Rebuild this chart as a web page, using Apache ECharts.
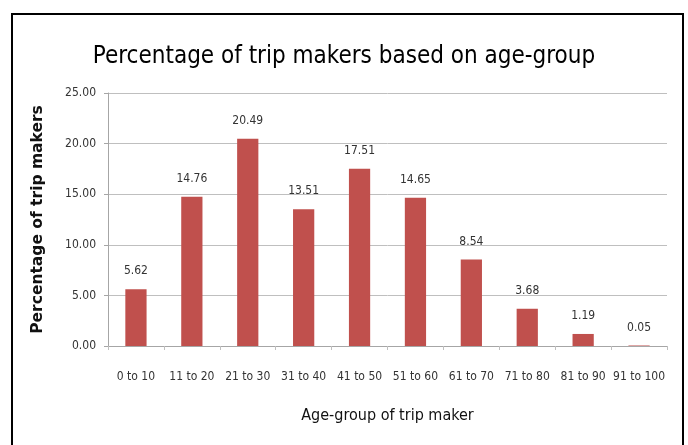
<!DOCTYPE html>
<html>
<head>
<meta charset="utf-8">
<script src="https://cdn.jsdelivr.net/npm/echarts@6/dist/echarts.min.js"></script>
<style>
  html, body { margin: 0; padding: 0; background: #fff; }
  #frame { position: absolute; left: 11px; top: 13px; width: 673px; height: 445px; border: 2px solid #000; box-sizing: border-box; }
  #chart { position: absolute; left: 0; top: 0; width: 688px; height: 445px; }
</style>
</head>
<body>
<div id="frame"></div>
<div id="chart"></div>
<script>
// Age groups and share of trip makers (%)
const ageGroups = ['0 to 10', '11 to 20', '21 to 30', '31 to 40', '41 to 50', '51 to 60', '61 to 70', '71 to 80', '81 to 90', '91 to 100'];
const tripMakerShare = [5.62, 14.76, 20.49, 13.51, 17.51, 14.65, 8.54, 3.68, 1.19, 0.05];
const yTicks = [0, 5, 10, 15, 20, 25];

const font = '"DejaVu Sans Condensed", "DejaVu Sans", sans-serif';
const chart = echarts.init(document.getElementById('chart'));
chart.setOption({
  animation: false,
  title: {
    text: 'Percentage of trip makers based on age-group',
    left: 'center',
    top: 40,
    textStyle: { fontFamily: font, fontSize: 24, fontWeight: 'normal', color: '#000' }
  },
  grid: { left: 108, right: 21, top: 93, bottom: 99, containLabel: false },
  xAxis: {
    type: 'category',
    data: ageGroups,
    name: 'Age-group of trip maker',
    nameLocation: 'middle',
    nameGap: 62,
    nameTextStyle: { fontFamily: font, fontSize: 16, color: '#111' },
    axisLine: { lineStyle: { color: '#a6a6a6' } },
    axisTick: { show: true, alignWithLabel: false, length: 4, lineStyle: { color: '#bfbfbf' } },
    axisLabel: { fontFamily: font, fontSize: 12, color: '#333', margin: 25, interval: 0 }
  },
  yAxis: {
    type: 'value',
    min: yTicks[0],
    max: yTicks[yTicks.length - 1],
    interval: 5,
    name: 'Percentage of trip makers',
    nameLocation: 'middle',
    nameGap: 62,
    nameTextStyle: { fontFamily: '"DejaVu Sans", sans-serif', fontSize: 15.5, fontWeight: 'bold', color: '#111' },
    axisLine: { show: true, lineStyle: { color: '#a6a6a6' } },
    axisTick: { show: true, length: 4, lineStyle: { color: '#a6a6a6' } },
    axisLabel: { fontFamily: font, fontSize: 12, color: '#333', margin: 12, formatter: v => v.toFixed(2) },
    splitLine: { lineStyle: { color: '#bfbfbf' } }
  },
  series: [{
    type: 'bar',
    data: tripMakerShare,
    barWidth: '38%',
    itemStyle: { color: '#c0504d' },
    label: {
      show: true,
      position: 'top',
      distance: 12,
      fontFamily: font,
      fontSize: 12,
      color: '#333',
      formatter: p => p.value.toFixed(2)
    }
  }]
});
</script>
</body>
</html>
